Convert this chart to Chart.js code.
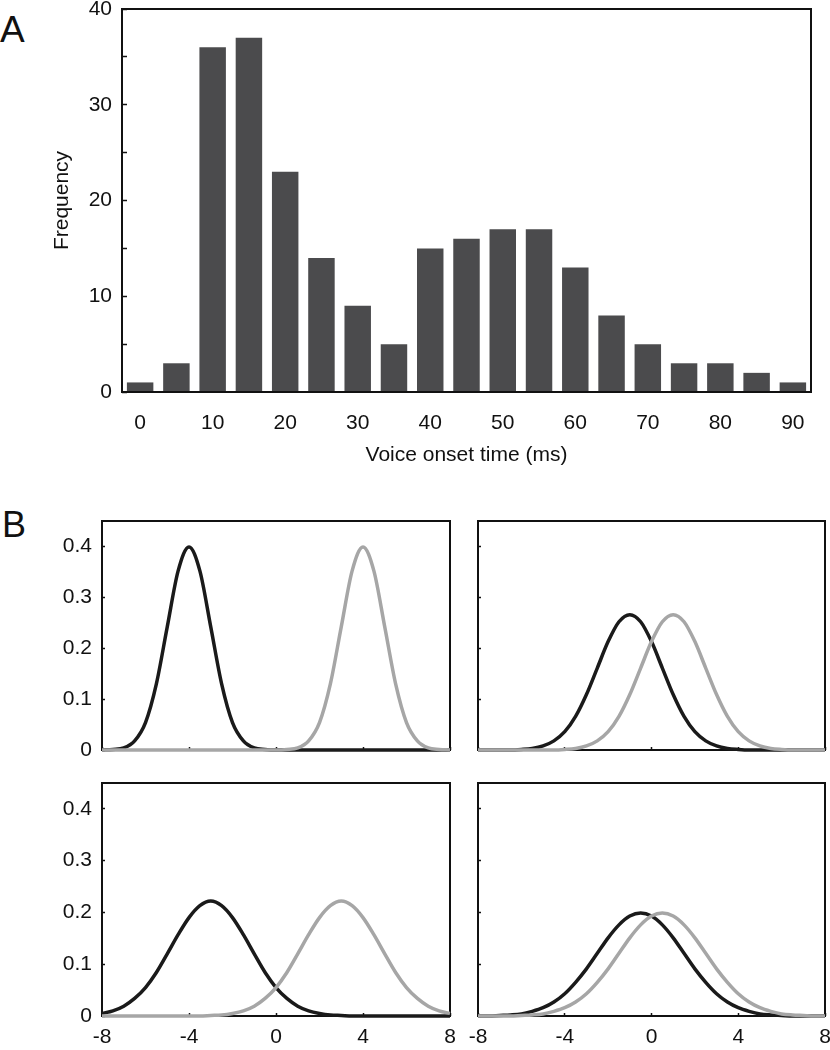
<!DOCTYPE html>
<html>
<head>
<meta charset="utf-8">
<script src="https://cdn.jsdelivr.net/npm/chart.js@4/dist/chart.umd.min.js"></script>
<style>
  body { margin: 0; background: #fff; width: 830px; height: 1050px; position: relative; overflow: hidden; font-family: "Liberation Sans", Arial, sans-serif; }
  .box { position: absolute; }
  .tag { position: absolute; font-size: 37px; line-height: 37px; color: #111; }
</style>
</head>
<body>
<div class="tag" style="left:0;top:11px;">A</div>
<div class="tag" style="left:2px;top:507px;font-size:36px;line-height:36px;">B</div>

<div class="box" style="left:0;top:0;"><canvas id="histA" width="830" height="480"></canvas></div>
<div class="box" style="left:0;top:500px;"><canvas id="dTL" width="460" height="260"></canvas></div>
<div class="box" style="left:460px;top:500px;"><canvas id="dTR" width="370" height="260"></canvas></div>
<div class="box" style="left:0;top:760px;"><canvas id="dBL" width="460" height="290"></canvas></div>
<div class="box" style="left:460px;top:760px;"><canvas id="dBR" width="370" height="290"></canvas></div>

<script>
/* Panel A: voice onset time histogram */
const votBins = ['0','5','10','15','20','25','30','35','40','45','50','55','60','65','70','75','80','85','90'];
const votCounts = [1, 3, 36, 37, 23, 14, 9, 5, 15, 16, 17, 17, 13, 8, 5, 3, 3, 2, 1];

/* Panel B: category densities, sampled every 0.5 */
const xs = [-8,-7.5,-7,-6.5,-6,-5.5,-5,-4.5,-4,-3.5,-3,-2.5,-2,-1.5,-1,-0.5,0,0.5,1,1.5,2,2.5,3,3.5,4,4.5,5,5.5,6,6.5,7,7.5,8];

const tlDark  = [0,0.001,0.004,0.018,0.054,0.130,0.242,0.352,0.399,0.352,0.242,0.130,0.054,0.018,0.004,0.001,0,0,0,0,0,0,0,0,0,0,0,0,0,0,0,0,0];
const tlLight = [0,0,0,0,0,0,0,0,0,0,0,0,0,0,0,0,0,0.001,0.004,0.018,0.054,0.130,0.242,0.352,0.399,0.352,0.242,0.130,0.054,0.018,0.004,0.001,0];

const trDark  = [0,0,0,0,0.001,0.003,0.008,0.018,0.036,0.066,0.109,0.161,0.213,0.252,0.266,0.252,0.213,0.161,0.109,0.066,0.036,0.018,0.008,0.003,0.001,0,0,0,0,0,0,0,0];
const trLight = [0,0,0,0,0,0,0,0,0.001,0.003,0.008,0.018,0.036,0.066,0.109,0.161,0.213,0.252,0.266,0.252,0.213,0.161,0.109,0.066,0.036,0.018,0.008,0.003,0.001,0,0,0,0];

const blDark  = [0.005,0.010,0.019,0.034,0.055,0.084,0.120,0.157,0.190,0.213,0.222,0.213,0.190,0.157,0.120,0.084,0.055,0.034,0.019,0.010,0.005,0.002,0.001,0,0,0,0,0,0,0,0,0,0];
const blLight = [0,0,0,0,0,0,0,0,0,0,0.001,0.002,0.005,0.010,0.019,0.034,0.055,0.084,0.120,0.157,0.190,0.213,0.222,0.213,0.190,0.157,0.120,0.084,0.055,0.034,0.019,0.010,0.005];

const brDark  = [0,0,0.001,0.002,0.004,0.009,0.016,0.027,0.043,0.065,0.091,0.121,0.151,0.176,0.193,0.199,0.193,0.176,0.151,0.121,0.091,0.065,0.043,0.027,0.016,0.009,0.004,0.002,0.001,0,0,0,0];
const brLight = [0,0,0,0,0.001,0.002,0.004,0.009,0.016,0.027,0.043,0.065,0.091,0.121,0.151,0.176,0.193,0.199,0.193,0.176,0.151,0.121,0.091,0.065,0.043,0.027,0.016,0.009,0.004,0.002,0.001,0,0];

const C = {
  ink:   '#111111',
  bar:   '#4b4b4d',
  dark:  '#1a1a1a',
  light: '#a6a6a6',
};

Chart.defaults.font.family = '"Liberation Sans", Arial, sans-serif';
Chart.defaults.font.size = 21;
Chart.defaults.color = C.ink;

// box round the plot area
function framePlugin(hook) {
  return {
    id: 'frame_' + hook,
    [hook](chart) {
      const { ctx, chartArea: a } = chart;
      ctx.save();
      ctx.strokeStyle = C.ink;
      ctx.lineWidth = 2;
      ctx.strokeRect(a.left, a.top, a.right - a.left, a.bottom - a.top);
      ctx.restore();
    },
  };
}

const fixWidth = w => s => { s.width = w; s.paddingTop = 0; s.paddingBottom = 0; };
const fixHeight = h => s => { s.height = h; s.paddingLeft = 0; s.paddingRight = 0; };

// ── Histogram ─────────────────────────────────────
new Chart(document.getElementById('histA'), {
  type: 'bar',
  data: {
    labels: votBins,
    datasets: [{ data: votCounts, backgroundColor: C.bar, barPercentage: 0.73, categoryPercentage: 1 }],
  },
  options: {
    responsive: false,
    animation: false,
    layout: { padding: { top: 9, right: 19, left: 0, bottom: 0 } },
    plugins: { legend: { display: false }, tooltip: { enabled: false } },
    scales: {
      x: {
        offset: true,
        grid: { display: false, drawTicks: false },
        border: { display: false },
        ticks: {
          autoSkip: false, maxRotation: 0, padding: 19,
          callback(v, i) { return i % 2 === 0 ? this.getLabelForValue(v) : ''; },
        },
        title: { display: true, text: 'Voice onset time (ms)', padding: { top: 0, bottom: 12 } },
        afterFit: fixHeight(88),
      },
      y: {
        min: 0, max: 40,
        ticks: { stepSize: 5, padding: 15, callback: v => (v % 10 === 0 ? v : '') },
        grid: { drawOnChartArea: false, tickLength: -5, tickColor: C.ink, tickWidth: 1.5 },
        border: { display: false },
        title: { display: true, text: 'Frequency', padding: { top: 50, bottom: 0 } },
        afterFit: fixWidth(122),
      },
    },
  },
  plugins: [framePlugin('afterDraw')],
});

// ── Density panels ────────────────────────────────
function densityChart(canvasId, dark, light, o) {
  const pts = ys => xs.map((x, i) => ({ x, y: ys[i] }));
  const line = (ys, color) => ({
    data: pts(ys), borderColor: color, borderWidth: 3.5, pointRadius: 0,
    cubicInterpolationMode: 'monotone', clip: false,
  });
  return new Chart(document.getElementById(canvasId), {
    type: 'line',
    data: { datasets: [line(light, C.light), line(dark, C.dark)] },
    options: {
      responsive: false,
      animation: false,
      layout: { padding: { top: o.top, right: o.right, left: 0, bottom: 0 } },
      plugins: { legend: { display: false }, tooltip: { enabled: false } },
      scales: {
        x: {
          type: 'linear', min: -8, max: 8,
          ticks: { stepSize: 4, display: o.xLabels, padding: 12, maxRotation: 0 },
          grid: { drawOnChartArea: false, tickLength: -3, tickColor: C.ink, tickWidth: 1.5 },
          border: { display: false },
          afterFit: fixHeight(o.xh),
        },
        y: {
          min: 0, max: 0.45,
          ticks: { stepSize: 0.1, includeBounds: false, display: o.yLabels, padding: 13 },
          grid: { drawOnChartArea: false, tickLength: -3, tickColor: C.ink, tickWidth: 1.5 },
          border: { display: false },
          afterFit: fixWidth(o.yw),
        },
      },
    },
    plugins: [framePlugin('beforeDatasetsDraw')],
  });
}

densityChart('dTL', tlDark, tlLight, { top: 21, right: 10, xh: 10, yw: 102, xLabels: false, yLabels: true });
densityChart('dTR', trDark, trLight, { top: 21, right: 5, xh: 10, yw: 18, xLabels: false, yLabels: false });
densityChart('dBL', blDark, blLight, { top: 23, right: 10, xh: 34, yw: 102, xLabels: true, yLabels: true });
densityChart('dBR', brDark, brLight, { top: 23, right: 5, xh: 34, yw: 18, xLabels: true, yLabels: false });
</script>
</body>
</html>
